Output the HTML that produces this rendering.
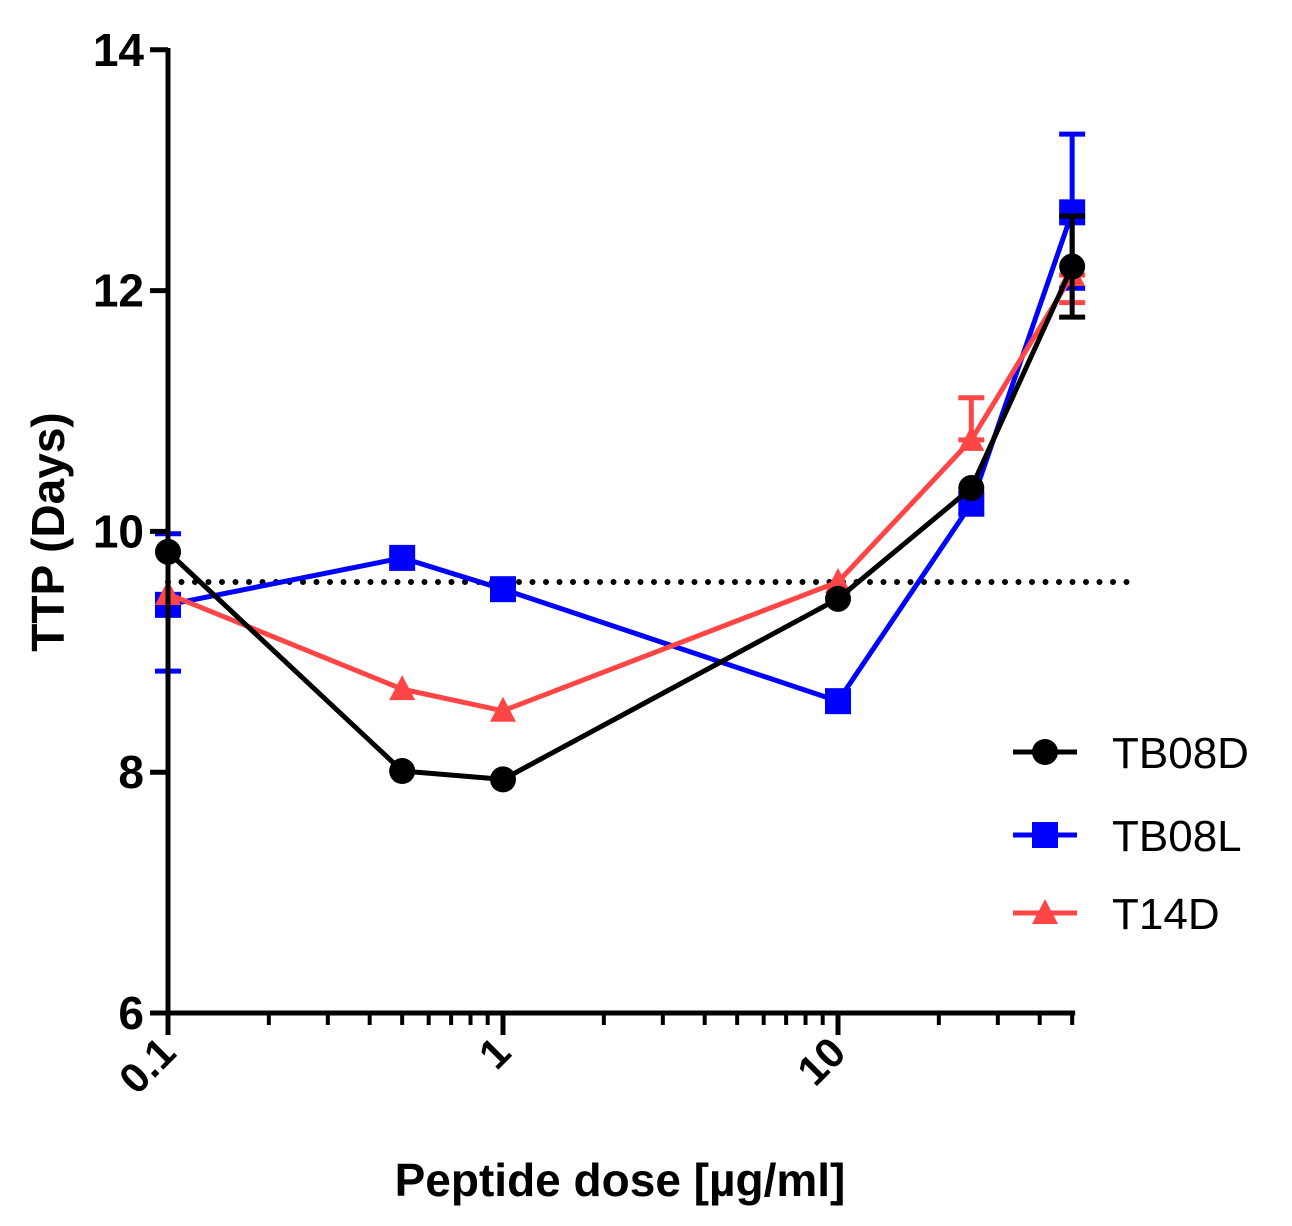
<!DOCTYPE html>
<html><head><meta charset="utf-8"><style>
html,body{margin:0;padding:0;background:#fff;}
svg{display:block;font-family:"Liberation Sans",Arial,sans-serif;}
</style></head><body>
<svg id="chart" width="1292" height="1226" viewBox="0 0 1292 1226"></svg>
<script>
const doses=[0.1,0.5,1,10,25,50];
const tb08dVals=[9.83,8.01,7.94,9.44,10.36,12.2];
const tb08dHi=[9.83,8.01,7.94,9.44,10.36,12.62];
const tb08dLo=[9.83,8.01,7.94,9.44,10.36,11.78];
const tb08lVals=[9.39,9.78,9.52,8.59,10.23,12.65];
const tb08lHi=[9.98,9.78,9.52,8.59,10.23,13.3];
const tb08lLo=[8.84,9.78,9.52,8.59,10.23,12.02];
const t14dVals=[9.48,8.69,8.51,9.58,10.76,12.13];
const t14dHi=[9.48,8.69,8.51,9.58,11.11,12.13];
const t14dLo=[9.48,8.69,8.51,9.58,10.76,11.9];
const refLine=[9.58];
const yTicks=[6,8,10,12,14];
const xTickLabels=["0.1","1","10"];
const xTickVals=[0.1,1,10];
const minorVals=[0.2,0.3,0.4,0.5,0.6,0.7,0.8,0.9,2,3,4,5,6,7,8,9,20,30,40,50];

const NS="http://www.w3.org/2000/svg";
const svg=document.getElementById('chart');
const X0=168,DEC=335,Y0=1013,YU=120.4;
function xs(v){return X0+DEC*Math.log10(v/0.1);}
function ys(v){return Y0-(v-6)*YU;}
function mk(t,a,parent){const e=document.createElementNS(NS,t);for(const k in a)e.setAttribute(k,a[k]);(parent||svg).appendChild(e);return e;}

let rl=mk('line',{x1:xs(0.1),x2:1130,y1:ys(refLine[0]),y2:ys(refLine[0]),stroke:'#000','stroke-width':6,'stroke-dasharray':'0 13.5','stroke-linecap':'round'});



const series=[
 {name:'tb08l',color:'#0000ff',vals:tb08lVals,hi:tb08lHi,lo:tb08lLo,shape:'square'},
 {name:'t14d',color:'#ff4545',vals:t14dVals,hi:t14dHi,lo:t14dLo,shape:'triangle'},
 {name:'tb08d',color:'#000000',vals:tb08dVals,hi:tb08dHi,lo:tb08dLo,shape:'circle'}
];
function marker(shape,cx,cy,color,g){
 let m;
 if(shape==='circle')m=mk('circle',{cx:cx,cy:cy,r:13,fill:color},g);
 else if(shape==='square')m=mk('rect',{x:cx-13,y:cy-13,width:26,height:26,fill:color},g);
 else m=mk('polygon',{points:`${cx},${cy-14} ${cx+13},${cy+11} ${cx-13},${cy+11}`,fill:color},g);
 return m;
}
series.forEach(s=>{
 const g=mk('g',{});
 
 
 doses.forEach((d,i)=>{
  if(s.hi[i]!==s.vals[i]||s.lo[i]!==s.vals[i]){
   const x=xs(d);
   const eb=mk('path',{d:`M${x},${ys(s.hi[i])}V${ys(s.lo[i])}M${x-13},${ys(s.hi[i])}h26M${x-13},${ys(s.lo[i])}h26`,stroke:s.color,'stroke-width':5,fill:'none'},g);
   
   
  }
 });
 const pts=doses.map((d,i)=>xs(d)+','+ys(s.vals[i])).join(' ');
 const pl=mk('polyline',{points:pts,fill:'none',stroke:s.color,'stroke-width':5,'stroke-linejoin':'round'},g);
 
 
 doses.forEach((d,i)=>{
  const m=marker(s.shape,xs(d),ys(s.vals[i]),s.color,g);
  
  
 });
});

let ya=mk('line',{x1:X0,x2:X0,y1:48,y2:Y0+22,stroke:'#000','stroke-width':5});


let xa=mk('line',{x1:X0-2,x2:xs(50)+3,y1:Y0,y2:Y0,stroke:'#000','stroke-width':5});


yTicks.forEach(v=>{
 mk('line',{x1:X0-18,x2:X0,y1:ys(v),y2:ys(v),stroke:'#000','stroke-width':5});
 const t=mk('text',{x:X0-24,y:ys(v)+16,'text-anchor':'end','font-size':46,'font-weight':'bold'});
 t.textContent=v;
 
 
});
minorVals.forEach(v=>{
 mk('line',{x1:xs(v),x2:xs(v),y1:Y0,y2:Y0+12,stroke:'#000','stroke-width':4});
});
xTickVals.forEach((v,i)=>{
 mk('line',{x1:xs(v),x2:xs(v),y1:Y0,y2:Y0+22,stroke:'#000','stroke-width':5});
 const x=xs(v)+10,y=Y0+42;
 const t=mk('text',{x:x,y:y,'text-anchor':'end','font-size':42,'font-weight':'bold',transform:`rotate(-45 ${x} ${y})`});
 t.textContent=xTickLabels[i];
 
 
});
let xt=mk('text',{x:620,y:1196,'text-anchor':'middle','font-size':46,'font-weight':'bold'});
xt.textContent='Peptide dose [µg/ml]';


let yt=mk('text',{x:64,y:532,'text-anchor':'middle','font-size':46,'font-weight':'bold',transform:'rotate(-90 64 532)'});
yt.textContent='TTP (Days)';



const legNames=['TB08D','TB08L','T14D'];
const legSeries=[series[2],series[0],series[1]];
const legY=[752,835,913];
legNames.forEach((n,i)=>{
 const g=mk('g',{});
 
 
 const s=legSeries[i];
 mk('line',{x1:1013,x2:1077,y1:legY[i],y2:legY[i],stroke:s.color,'stroke-width':5},g);
 marker(s.shape,1045,legY[i],s.color,g);
 const t=mk('text',{x:1112,y:legY[i]+16,'font-size':44},g);
 t.textContent=n;
});
</script>
</body></html>
